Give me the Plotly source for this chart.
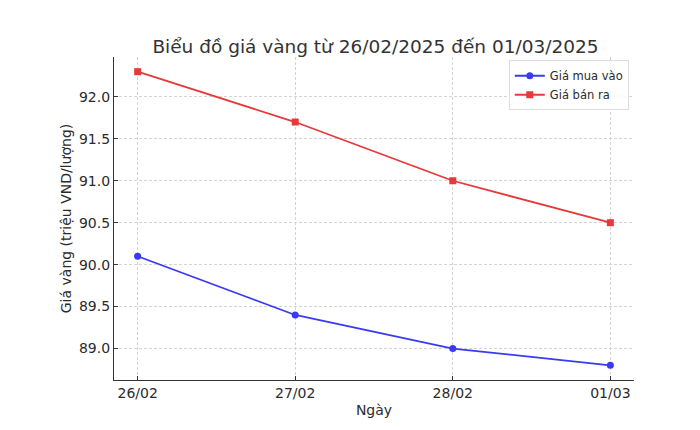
import plotly.graph_objects as go

# Dữ liệu giá vàng (triệu VND/lượng)
days = ["26/02", "27/02", "28/02", "01/03"]
buy_prices = [90.1, 89.4, 89.0, 88.8]
sell_prices = [92.3, 91.7, 91.0, 90.5]

FONT = "DejaVu Sans"
TEXT = "#2b2b2b"
GRID = "#d4d4d4"

fig = go.Figure()

fig.add_trace(go.Scatter(
    x=days, y=buy_prices, name="Giá mua vào", mode="lines+markers",
    line=dict(color="#3a3af2", width=1.8),
    marker=dict(symbol="circle", size=7, color="#3a3af2"),
))
fig.add_trace(go.Scatter(
    x=days, y=sell_prices, name="Giá bán ra", mode="lines+markers",
    line=dict(color="#e8383a", width=1.8),
    marker=dict(symbol="square", size=7, color="#e8383a"),
))

fig.update_layout(
    width=700, height=430,
    margin=dict(l=106, r=74, t=49, b=58),
    paper_bgcolor="white", plot_bgcolor="white",
    font=dict(family=FONT, size=14, color=TEXT),
    title=dict(
        text="Biểu đồ giá vàng từ 26/02/2025 đến 01/03/2025",
        x=0.525, xanchor="center", y=0.91, yanchor="middle",
        font=dict(size=18.5, color="#333333"),
    ),
    legend=dict(
        x=0.99, xanchor="right", y=0.99, yanchor="top",
        bgcolor="rgba(255,255,255,0.85)", bordercolor="#dddddd", borderwidth=1,
        font=dict(size=11.5, color=TEXT),
        tracegroupgap=0,
    ),
    showlegend=True,
)

fig.update_xaxes(
    type="category", range=[-0.15, 3.15],
    title=dict(text="Ngày", font=dict(size=14), standoff=5),
    showgrid=True, gridcolor=GRID, griddash="3px,2px", gridwidth=0.8,
    showline=True, linecolor="#333333", linewidth=1.2,
    ticks="inside", ticklen=4, tickcolor="#333333",
    zeroline=False,
)
fig.update_yaxes(
    range=[88.625, 92.475], dtick=0.5, tickformat=".1f",
    title=dict(text="Giá vàng (triệu VND/lượng)", font=dict(size=14), standoff=4),
    showgrid=True, gridcolor=GRID, griddash="3px,2px", gridwidth=0.8,
    showline=True, linecolor="#333333", linewidth=1.2,
    ticks="inside", ticklen=4, tickcolor="#333333",
    zeroline=False,
)

fig.write_html("out.html")
